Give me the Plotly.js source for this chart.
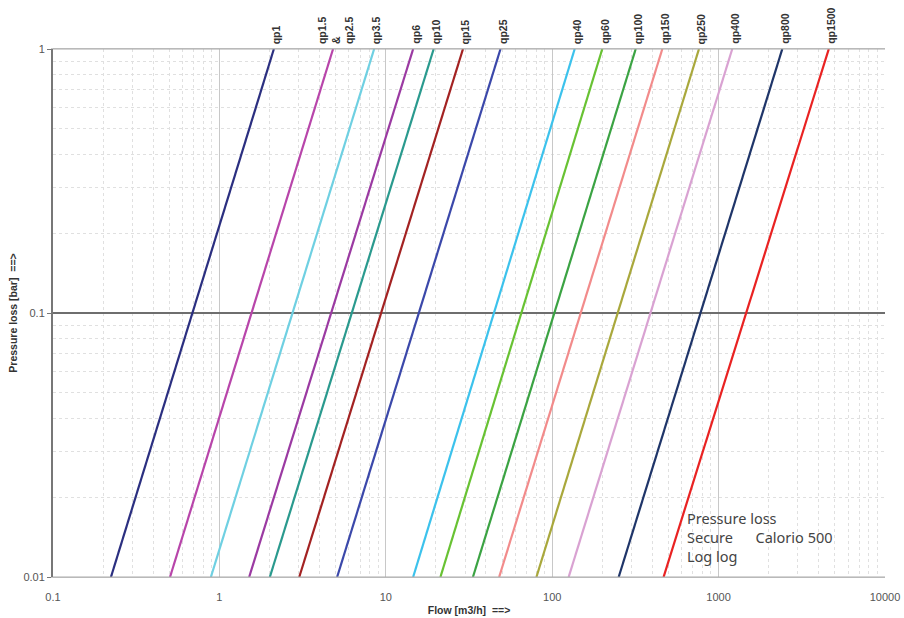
<!DOCTYPE html>
<html>
<head>
<meta charset="utf-8">
<script src="https://cdn.plot.ly/plotly-3.0.1.min.js"></script>
<style>html,body{margin:0;padding:0;background:#fff;}#chart{width:904px;height:618px;}</style>
</head>
<body>
<div id="chart"></div>
<script>
// Meter sizes (line labels drawn at the top of each line)
const labels = ["qp1", "qp1.5<br>&<br>qp2.5", "qp3.5", "qp6", "qp10", "qp15", "qp25", "qp40", "qp60", "qp100", "qp150", "qp250", "qp400", "qp800", "qp1500"];
// Flow [m3/h] at pressure loss 0.01 bar
const flowAtLow = [0.223, 0.505, 0.889, 1.51, 2.01, 3.02, 5.1, 14.6, 21.3, 33.4, 48, 80.4, 125.6, 251, 467];
// Flow [m3/h] at pressure loss 1 bar
const flowAtHigh = [2.125, 4.82, 8.51, 14.6, 19.4, 29.1, 48.9, 136.5, 200, 317.6, 459, 762, 1208, 2414, 4594];
const pressureEnds = [0.01, 1];
const colors = ["#2b2f80", "#b845aa", "#6fd0e2", "#9b3aa2", "#2a9a8e", "#a32222", "#3b48aa", "#3cc2ec", "#68c233", "#3ba343", "#f28b8b", "#a9a83c", "#d9a2d2", "#1f3569", "#e92222"];
const xTickVals = [0.1, 1, 10, 100, 1000, 10000];
const xTickText = ["0.1", "1", "10", "100", "1000", "10000"];
const yTickVals = [0.01, 0.1, 1];
const yTickText = ["0.01", "0.1", "1"];
const minorSteps = [2, 3, 4, 5, 6, 7, 8, 9];

function minorVals(decades) {
  const out = [];
  decades.forEach(d => minorSteps.forEach(k => out.push(d * k)));
  return out;
}

const traces = labels.map((l, i) => ({
  type: "scatter", mode: "lines",
  x: [flowAtLow[i], flowAtHigh[i]], y: pressureEnds,
  line: {color: colors[i], width: 2.2},
  hoverinfo: "skip", showlegend: false
}));

const annotations = labels.map((l, i) => ({
  x: Math.log10(flowAtHigh[i]), y: 1, xref: "x", yref: "paper",
  text: "<b>" + l + "</b>", textangle: -90, showarrow: false, align: "left",
  xanchor: "center", yanchor: "bottom", yshift: 3, xshift: 2,
  font: {family: "Liberation Sans, Arial, sans-serif", size: 10.5, color: "#333"},
}));
annotations.push({
  x: 0.76, y: 0.135, xref: "paper", yref: "paper", xanchor: "left", yanchor: "top",
  showarrow: false, align: "left",
  text: "Pressure loss<br>Secure      Calorio 500<br>Log log",
  font: {family: "Noto Sans, sans-serif", size: 14.5, color: "#444"}
});

const tickFont = {family: "Liberation Sans, Arial, sans-serif", size: 11, color: "#555"};
const titleFont = {family: "Liberation Sans, Arial, sans-serif", size: 10.5, color: "#333"};

const layout = {
  width: 904, height: 618,
  margin: {l: 53, r: 19, t: 49, b: 41},
  paper_bgcolor: "#fff", plot_bgcolor: "#fff",
  showlegend: false,
  xaxis: {
    type: "log", range: [-1, 4],
    tickmode: "array", tickvals: xTickVals, ticktext: xTickText,
    showgrid: true, gridcolor: "#c8c8c8", gridwidth: 1,
    minor: {tickmode: "array", tickvals: minorVals([0.1, 1, 10, 100, 1000]), showgrid: true, gridcolor: "#e0e0e0", griddash: "dot", gridwidth: 1, ticks: ""},
    showline: true, linecolor: "#c8c8c8", linewidth: 1, mirror: true,
    zeroline: false, ticks: "", ticklabelstandoff: 10,
    tickfont: tickFont,
    title: {text: "<b>Flow [m3/h]  ==></b>", standoff: 4, font: titleFont}
  },
  yaxis: {
    type: "log", range: [-2, 0],
    tickmode: "array", tickvals: yTickVals, ticktext: yTickText,
    showgrid: true, gridcolor: "#6e6e6e", gridwidth: 1.6,
    minor: {tickmode: "array", tickvals: minorVals([0.01, 0.1]), showgrid: true, gridcolor: "#e0e0e0", griddash: "dot", gridwidth: 1, ticks: ""},
    showline: true, linecolor: "#777", linewidth: 2,
    zeroline: false, ticks: "outside", ticklen: 4, tickcolor: "#777",
    tickfont: tickFont,
    title: {text: "<b>Pressure loss [bar]  ==></b>", standoff: 4, font: titleFont}
  },
  shapes: [
    {type: "line", xref: "paper", yref: "paper", x0: 0, x1: 1, y0: 1, y1: 1, line: {color: "#aaa", width: 1}},
    {type: "line", xref: "paper", yref: "paper", x0: 0, x1: 1, y0: 0, y1: 0, line: {color: "#aaa", width: 1}}
  ],
  annotations: annotations
};

Plotly.newPlot("chart", traces, layout, {staticPlot: true, displayModeBar: false});
</script>
</body>
</html>
